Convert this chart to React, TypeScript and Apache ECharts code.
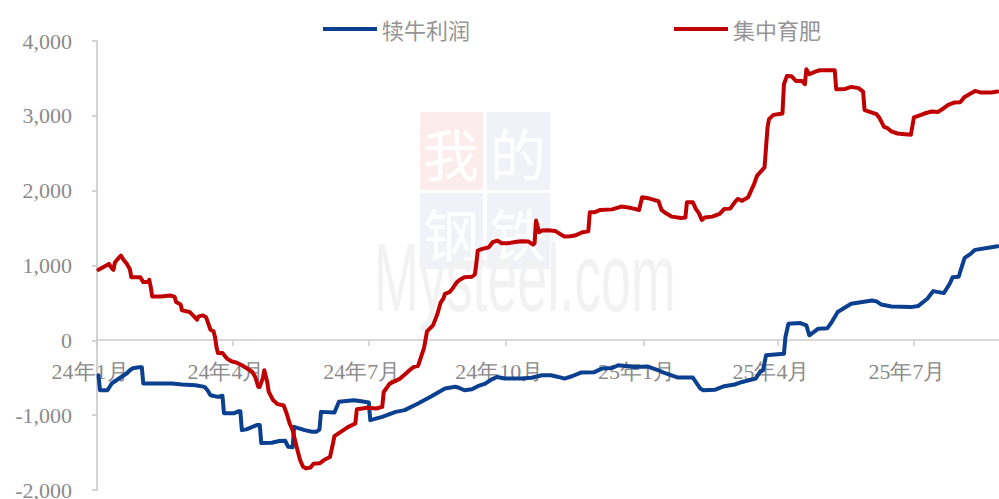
import React, { useEffect, useRef } from 'react';
import * as echarts from 'echarts';

const quarterDates = ['2024-01-01', '2024-04-01', '2024-07-01', '2024-10-01', '2025-01-01', '2025-04-01', '2025-07-01'];
const quarterLabels = ['24年1月', '24年4月', '24年7月', '24年10月', '25年1月', '25年4月', '25年7月'];
const seriesNames = ['犊牛利润', '集中育肥'];

const cowDates = [
  '2024-01-02', '2024-01-03', '2024-01-08', '2024-01-11', '2024-01-14', '2024-01-17', '2024-01-21', '2024-01-23', '2024-01-25', '2024-01-29',
  '2024-01-31', '2024-02-01', '2024-02-20', '2024-02-27', '2024-03-07', '2024-03-13', '2024-03-15', '2024-03-17', '2024-03-22', '2024-03-25',
  '2024-03-26', '2024-04-02', '2024-04-05', '2024-04-06', '2024-04-07', '2024-04-10', '2024-04-17', '2024-04-19', '2024-04-20', '2024-04-27',
  '2024-05-02', '2024-05-06', '2024-05-08', '2024-05-11', '2024-05-12', '2024-05-19', '2024-05-24', '2024-05-27', '2024-05-29', '2024-05-30',
  '2024-06-08', '2024-06-11', '2024-06-21', '2024-06-26', '2024-07-01', '2024-07-02', '2024-07-10', '2024-07-19', '2024-07-25', '2024-08-03',
  '2024-08-12', '2024-08-21', '2024-08-28', '2024-08-31', '2024-09-03', '2024-09-08', '2024-09-12', '2024-09-17', '2024-09-21', '2024-09-25',
  '2024-09-30', '2024-10-11', '2024-10-18', '2024-10-25', '2024-10-31', '2024-11-05', '2024-11-09', '2024-11-14', '2024-11-20', '2024-11-29',
  '2024-12-04', '2024-12-11', '2024-12-15', '2024-12-26', '2025-01-04', '2025-01-11', '2025-01-15', '2025-01-24', '2025-02-03', '2025-02-08',
  '2025-02-10', '2025-02-18', '2025-02-24', '2025-03-03', '2025-03-08', '2025-03-17', '2025-03-20', '2025-03-22', '2025-03-24', '2025-04-01',
  '2025-04-05', '2025-04-06', '2025-04-08', '2025-04-16', '2025-04-20', '2025-04-22', '2025-04-28', '2025-05-04', '2025-05-07', '2025-05-11',
  '2025-05-20', '2025-06-03', '2025-06-06', '2025-06-09', '2025-06-16', '2025-06-29', '2025-07-04', '2025-07-10', '2025-07-14', '2025-07-21',
  '2025-07-25', '2025-07-27', '2025-07-31', '2025-08-02', '2025-08-04', '2025-08-08', '2025-08-11', '2025-08-22', '2025-08-26'
];
const cowValues = [
  -467, -667, -667, -573, -533, -493, -440, -400, -373, -360,
  -360, -578, -578, -590, -600, -622, -667, -733, -756, -740,
  -973, -973, -947, -947, -1200, -1190, -1133, -1133, -1373, -1369,
  -1345, -1342, -1422, -1430, -1156, -1200, -1222, -1222, -1190, -956,
  -965, -822, -800, -815, -831, -1067, -1022, -956, -933, -844,
  -747, -644, -620, -640, -667, -655, -613, -578, -524, -489,
  -510, -510, -500, -467, -467, -489, -511, -480, -431, -425,
  -378, -370, -333, -356, -350, -400, -436, -498, -498, -644,
  -667, -660, -613, -590, -556, -511, -422, -400, -200, -187,
  -180, 44, 222, 230, 200, 67, 156, 160, 244, 378,
  489, 533, 520, 480, 453, 444, 460, 556, 658, 631,
  756, 844, 850, 978, 1102, 1156, 1209, 1244, 1258
];

const fatDates = [
  '2024-01-02', '2024-01-06', '2024-01-09', '2024-01-11', '2024-01-12', '2024-01-13', '2024-01-15', '2024-01-17', '2024-01-19', '2024-01-21',
  '2024-01-23', '2024-01-24', '2024-01-30', '2024-02-01', '2024-02-04', '2024-02-05', '2024-02-06', '2024-02-07', '2024-02-13', '2024-02-19',
  '2024-02-22', '2024-02-23', '2024-02-26', '2024-02-27', '2024-03-03', '2024-03-05', '2024-03-08', '2024-03-09', '2024-03-12', '2024-03-14',
  '2024-03-17', '2024-03-19', '2024-03-20', '2024-03-21', '2024-03-22', '2024-03-25', '2024-03-28', '2024-03-31', '2024-04-04', '2024-04-07',
  '2024-04-10', '2024-04-14', '2024-04-16', '2024-04-18', '2024-04-19', '2024-04-20', '2024-04-21', '2024-04-22', '2024-04-24', '2024-04-25',
  '2024-04-28', '2024-05-01', '2024-05-05', '2024-05-07', '2024-05-09', '2024-05-11', '2024-05-14', '2024-05-16', '2024-05-18', '2024-05-20',
  '2024-05-23', '2024-05-25', '2024-05-29', '2024-06-01', '2024-06-05', '2024-06-07', '2024-06-08', '2024-06-14', '2024-06-17', '2024-06-22',
  '2024-06-23', '2024-06-30', '2024-07-06', '2024-07-10', '2024-07-11', '2024-07-15', '2024-07-22', '2024-07-27', '2024-07-31', '2024-08-03',
  '2024-08-05', '2024-08-07', '2024-08-09', '2024-08-13', '2024-08-16', '2024-08-18', '2024-08-20', '2024-08-21', '2024-08-24', '2024-08-26',
  '2024-08-29', '2024-08-31', '2024-09-03', '2024-09-08', '2024-09-10', '2024-09-11', '2024-09-12', '2024-09-15', '2024-09-19', '2024-09-20',
  '2024-09-22', '2024-09-25', '2024-09-28', '2024-10-02', '2024-10-06', '2024-10-11', '2024-10-16', '2024-10-19', '2024-10-20', '2024-10-21',
  '2024-10-23', '2024-10-25', '2024-10-29', '2024-11-03', '2024-11-06', '2024-11-09', '2024-11-13', '2024-11-16', '2024-11-21', '2024-11-25',
  '2024-11-26', '2024-11-29', '2024-12-03', '2024-12-11', '2024-12-17', '2024-12-22', '2024-12-26', '2024-12-29', '2024-12-31', '2025-01-04',
  '2025-01-08', '2025-01-11', '2025-01-13', '2025-01-16', '2025-01-20', '2025-01-26', '2025-01-29', '2025-01-30', '2025-02-03', '2025-02-05',
  '2025-02-07', '2025-02-09', '2025-02-11', '2025-02-16', '2025-02-21', '2025-02-24', '2025-02-28', '2025-03-03', '2025-03-05', '2025-03-08',
  '2025-03-12', '2025-03-14', '2025-03-16', '2025-03-18', '2025-03-20', '2025-03-23', '2025-03-24', '2025-03-25', '2025-03-26', '2025-03-29',
  '2025-04-04', '2025-04-05', '2025-04-07', '2025-04-10', '2025-04-13', '2025-04-17', '2025-04-19', '2025-04-20', '2025-04-22', '2025-04-26',
  '2025-04-29', '2025-05-09', '2025-05-10', '2025-05-16', '2025-05-20', '2025-05-25', '2025-05-28', '2025-05-29', '2025-06-02', '2025-06-06',
  '2025-06-08', '2025-06-11', '2025-06-13', '2025-06-16', '2025-06-20', '2025-06-25', '2025-06-29', '2025-07-01', '2025-07-04', '2025-07-08',
  '2025-07-13', '2025-07-17', '2025-07-21', '2025-07-24', '2025-07-28', '2025-08-01', '2025-08-04', '2025-08-08', '2025-08-11', '2025-08-15',
  '2025-08-22', '2025-08-26'
];
const fatValues = [
  942, 987, 1022, 960, 942, 1040, 1089, 1133, 1070, 1022,
  950, 844, 844, 778, 778, 809, 711, 587, 587, 600,
  580, 511, 480, 400, 378, 340, 276, 320, 333, 310,
  142, 120, 44, -89, -169, -169, -244, -280, -302, -333,
  -370, -422, -490, -622, -622, -560, -511, -400, -556, -689,
  -800, -853, -870, -978, -1111, -1200, -1450, -1600, -1690, -1711,
  -1700, -1650, -1644, -1600, -1560, -1380, -1280, -1200, -1160, -1111,
  -920, -900, -911, -890, -690, -578, -511, -422, -356, -340,
  -222, -100, 120, 200, 356, 500, 560, 622, 644, 690,
  778, 810, 844, 850, 880, 1022, 1200, 1222, 1240, 1260,
  1311, 1333, 1298, 1298, 1310, 1324, 1320, 1280, 1300, 1600,
  1444, 1467, 1470, 1460, 1422, 1387, 1390, 1400, 1444, 1458,
  1711, 1711, 1742, 1750, 1787, 1775, 1756, 1742, 1911, 1900,
  1876, 1860, 1742, 1698, 1653, 1636, 1640, 1844, 1844, 1756,
  1700, 1609, 1640, 1653, 1689, 1756, 1760, 1844, 1889, 1865,
  1911, 2000, 2089, 2200, 2244, 2311, 2578, 2844, 2956, 3013,
  3031, 3422, 3533, 3530, 3467, 3467, 3422, 3622, 3556, 3590,
  3609, 3609, 3356, 3360, 3387, 3370, 3324, 3076, 3050, 3022,
  2970, 2853, 2840, 2791, 2764, 2755, 2747, 2978, 3000, 3031,
  3058, 3050, 3102, 3147, 3178, 3182, 3253, 3298, 3333, 3311,
  3311, 3324
];

const axisStart = '2024-01-01';
const axisEnd = '2025-08-27';

const ts = (d: string) => Date.parse(d + 'T00:00:00Z');

export default function App() {
  const ref = useRef<HTMLDivElement>(null);

  useEffect(() => {
    document.body.style.margin = '0';
    const chart = echarts.init(ref.current as HTMLDivElement, null, { renderer: 'svg' });
    const tickTs = quarterDates.map(ts);
    const labelOf: Record<number, string> = {};
    tickTs.forEach((t, i) => { labelOf[t] = quarterLabels[i]; });
    const gray = '#8a8a8a';
    const serif = 'Liberation Serif';

    const option: any = {
      animation: false,
      backgroundColor: '#ffffff',
      grid: { left: 97, right: 0, top: 41, bottom: 9, containLabel: false, outerBoundsMode: 'none' },
      legend: {
        left: 318,
        top: 13,
        icon: 'rect',
        itemWidth: 54,
        itemHeight: 4,
        itemGap: 204,
        data: seriesNames,
        textStyle: { fontSize: 22, color: '#959595', fontFamily: 'Noto Sans CJK SC' },
      },
      xAxis: {
        type: 'value',
        min: ts(axisStart),
        max: ts(axisEnd),
        offset: -150,
        splitLine: { show: false },
        axisLine: { show: true, onZero: false, lineStyle: { color: '#cccccc', width: 1.5 } },
        axisTick: { show: true, customValues: tickTs, length: 6, inside: false, lineStyle: { color: '#cccccc', width: 1.5 } },
        axisLabel: {
          customValues: tickTs,
          margin: 20,
          color: gray,
          fontSize: 22,
          fontFamily: serif,
          padding: [0, 14, 0, 0],
          formatter: (v: number) => labelOf[v] ?? '',
        },
      },
      yAxis: {
        type: 'value',
        min: -2000,
        max: 4000,
        interval: 1000,
        splitLine: { show: false },
        axisLine: { show: true, lineStyle: { color: '#c4c4c4', width: 1.5 } },
        axisTick: { show: true, length: 5, lineStyle: { color: '#c4c4c4', width: 1.5 } },
        axisLabel: {
          margin: 25,
          color: gray,
          fontSize: 22,
          fontFamily: serif,
          formatter: (v: number) => v.toLocaleString('en-US'),
        },
      },
      graphic: [
        { type: 'rect', z: 0, shape: { x: 420, y: 112, width: 63, height: 78 }, style: { fill: '#fcecec' } },
        { type: 'rect', z: 0, shape: { x: 487, y: 112, width: 63, height: 78 }, style: { fill: '#f0f2f8' } },
        { type: 'rect', z: 0, shape: { x: 420, y: 193, width: 63, height: 76 }, style: { fill: '#f0f2f8' } },
        { type: 'rect', z: 0, shape: { x: 487, y: 193, width: 63, height: 76 }, style: { fill: '#f0f2f8' } },
        { type: 'text', z: 1, x: 451, y: 151, style: { text: '我', fill: '#ffffff', font: '56px "Noto Sans CJK SC"', align: 'center', verticalAlign: 'middle' } },
        { type: 'text', z: 1, x: 518, y: 151, style: { text: '的', fill: '#ffffff', font: '56px "Noto Sans CJK SC"', align: 'center', verticalAlign: 'middle' } },
        { type: 'text', z: 1, x: 451, y: 231, style: { text: '钢', fill: '#ffffff', font: '56px "Noto Sans CJK SC"', align: 'center', verticalAlign: 'middle' } },
        { type: 'text', z: 1, x: 518, y: 231, style: { text: '铁', fill: '#ffffff', font: '56px "Noto Sans CJK SC"', align: 'center', verticalAlign: 'middle' } },
        { type: 'text', z: 1, x: 374, y: 230, scaleX: 0.56, style: { text: 'Mysteel.com', fill: '#f2f2f2', font: '96px "Liberation Sans"', verticalAlign: 'top' } },
      ],
      series: [
        {
          name: seriesNames[0],
          type: 'line',
          showSymbol: false,
          symbol: 'none',
          z: 3,
          color: '#0b3f8f',
          lineStyle: { width: 4, color: '#0b3f8f', cap: 'round', join: 'round' },
          data: cowDates.map((d, i) => [ts(d), cowValues[i]]),
        },
        {
          name: seriesNames[1],
          type: 'line',
          showSymbol: false,
          symbol: 'none',
          z: 4,
          color: '#c00000',
          lineStyle: { width: 4, color: '#c00000', cap: 'round', join: 'round' },
          data: fatDates.map((d, i) => [ts(d), fatValues[i]]),
        },
      ],
    };
    chart.setOption(option);
    return () => chart.dispose();
  }, []);

  return <div ref={ref} style={{ width: 999, height: 499 }} />;
}
